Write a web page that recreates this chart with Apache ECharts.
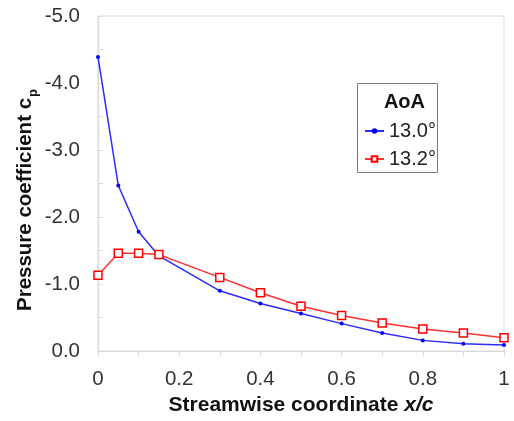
<!DOCTYPE html>
<html>
<head>
<meta charset="utf-8">
<script src="https://cdn.jsdelivr.net/npm/echarts@6/dist/echarts.min.js"></script>
<style>
  html, body { margin: 0; padding: 0; background: #fff; }
  #chart { width: 514px; height: 421px; }
</style>
</head>
<body>
<div id="chart"></div>
<script>
// Chordwise stations x/c
const xc = [0, 0.05, 0.1, 0.15, 0.3, 0.4, 0.5, 0.6, 0.7, 0.8, 0.9, 1.0];
// Pressure coefficient at AoA 13.0°
const cp130 = [-4.39, -2.47, -1.78, -1.42, -0.90, -0.71, -0.56, -0.41, -0.27, -0.16, -0.11, -0.09];
// Pressure coefficient at AoA 13.2°
const cp132 = [-1.13, -1.46, -1.46, -1.44, -1.10, -0.87, -0.67, -0.53, -0.42, -0.33, -0.27, -0.20];
const seriesNames = ['13.0°', '13.2°'];
const legendTitle = 'AoA';

const FONT = '"Liberation Sans", Arial, sans-serif';
const pairs = (xs, ys) => xs.map((x, i) => [x, ys[i]]);

const chart = echarts.init(document.getElementById('chart'), null, { renderer: 'canvas' });
chart.setOption({
  animation: false,
  backgroundColor: '#ffffff',
  textStyle: { fontFamily: FONT },
  grid: {
    left: 98, top: 16, right: 10, bottom: 66,
    show: true, borderColor: '#d9d9d9', borderWidth: 1, backgroundColor: 'transparent'
  },
  xAxis: {
    type: 'value', min: 0, max: 1, interval: 0.2,
    name: '{b|Streamwise coordinate }{i|x/c}',
    nameLocation: 'middle', nameGap: 43,
    nameTextStyle: {
      rich: {
        b: { fontFamily: FONT, fontSize: 21, fontWeight: 'bold', color: '#111' },
        i: { fontFamily: FONT, fontSize: 21, fontWeight: 'bold', fontStyle: 'italic', color: '#111' }
      }
    },
    axisLine: { show: true, lineStyle: { color: '#d9d9d9', width: 1 } },
    axisTick: { show: true, inside: false, length: 5, lineStyle: { color: '#d9d9d9' } },
    minorTick: { show: true, splitNumber: 2, length: 5, lineStyle: { color: '#d9d9d9' } },
    splitLine: { show: false },
    axisLabel: {
      fontSize: 20.5, color: '#333', margin: 18, fontFamily: FONT,
      formatter: v => (Math.round(v * 10) / 10).toString()
    }
  },
  yAxis: {
    type: 'value', min: -5, max: 0, interval: 1, inverse: true,
    axisLine: { show: true, lineStyle: { color: '#d9d9d9', width: 1 } },
    axisTick: { show: true, inside: true, length: 5, lineStyle: { color: '#d9d9d9' } },
    minorTick: { show: true, splitNumber: 2, length: 5, lineStyle: { color: '#d9d9d9' } },
    splitLine: { show: false },
    axisLabel: {
      fontSize: 20.5, color: '#333', margin: 18, fontFamily: FONT,
      formatter: v => v.toFixed(1)
    }
  },
  legend: {
    orient: 'vertical', left: 359, top: 116,
    itemWidth: 19, itemHeight: 7, itemGap: 8,
    textStyle: { fontSize: 20, color: '#222', fontFamily: FONT },
    data: seriesNames
  },
  graphic: [
    {
      type: 'rect', left: 357, top: 83, z: 10,
      shape: { width: 80, height: 89 },
      style: { fill: 'transparent', stroke: '#7a7a7a', lineWidth: 1 }
    },
    {
      type: 'text', z: 11,
      style: {
        text: legendTitle, x: 425, y: 102, textAlign: 'right', textVerticalAlign: 'middle',
        fontFamily: FONT, fontSize: 20, fontWeight: 'bold', fill: '#111'
      }
    },
    {
      type: 'text', z: 11, x: 25, y: 200, rotation: Math.PI / 2,
      style: {
        text: '{b|Pressure coefficient c}{s|p}',
        textAlign: 'center', textVerticalAlign: 'middle',
        rich: {
          b: { fontFamily: FONT, fontSize: 20.5, fontWeight: 'bold', fill: '#111', verticalAlign: 'bottom' },
          s: { fontFamily: FONT, fontSize: 13, fontWeight: 'bold', fill: '#111', verticalAlign: 'bottom', padding: [0, 0, -4, 1] }
        }
      }
    }
  ],
  series: [
    {
      name: seriesNames[0], type: 'line', data: pairs(xc, cp130),
      symbol: 'circle', symbolSize: 4,
      lineStyle: { color: '#2b2bff', width: 1.5 },
      itemStyle: { color: '#0000ff', borderWidth: 0 }
    },
    {
      name: seriesNames[1], type: 'line', data: pairs(xc, cp132),
      symbol: 'rect', symbolSize: 8,
      lineStyle: { color: '#ff3030', width: 1.5 },
      itemStyle: { color: '#ffffff', borderColor: '#ff0000', borderWidth: 1.5 }
    }
  ]
});
</script>
</body>
</html>
